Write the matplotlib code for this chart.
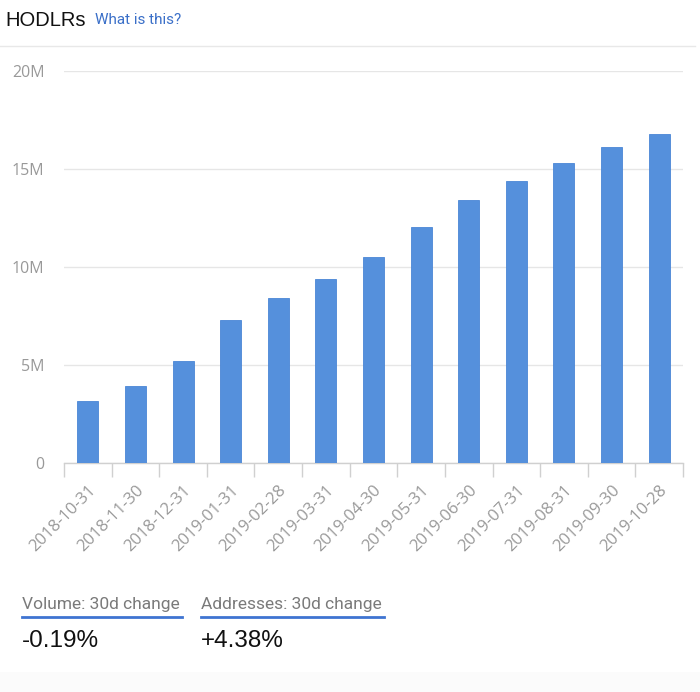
import matplotlib
matplotlib.use("Agg")
import matplotlib.pyplot as plt
import numpy as np

dates = ["2018-10-31", "2018-11-30", "2018-12-31", "2019-01-31", "2019-02-28",
         "2019-03-31", "2019-04-30", "2019-05-31", "2019-06-30", "2019-07-31",
         "2019-08-31", "2019-09-30", "2019-10-28"]
hodlers = [3.17e6, 3.94e6, 5.22e6, 7.31e6, 8.44e6, 9.41e6, 10.49e6, 12.02e6,
           13.40e6, 14.37e6, 15.29e6, 16.11e6, 16.78e6]
ytick_vals = [0, 5e6, 10e6, 15e6, 20e6]
ytick_labels = ["0", "5M", "10M", "15M", "20M"]
stat_labels = ["Volume: 30d change", "Addresses: 30d change"]
stat_values = ["-0.19%", "+4.38%"]

W, H = 700, 692
fig = plt.figure(figsize=(W / 100, H / 100), dpi=100)
fig.patch.set_facecolor("white")

def fx(px):
    return px / W

def fy(py):
    return 1 - py / H

tick_font = "Open Sans"

# Axes: x from 64 to 683 px, y from 71 (20M) to 463 (0)
ax = fig.add_axes([fx(64), fy(463), fx(683) - fx(64), fy(71) - fy(463)])
x = np.arange(len(dates))
ax.bar(x, hodlers, width=0.44, color="#5590dc", edgecolor="#4a86d6", linewidth=0.6, zorder=3)
ax.set_xlim(-0.5, len(dates) - 0.5)
ax.set_ylim(0, 20e6)
ax.set_yticks(ytick_vals)
ax.set_yticklabels(ytick_labels, fontfamily=tick_font, fontsize=11.5, color="#999999")
ax.yaxis.grid(True, color="#e6e6e6", linewidth=1.0, zorder=0)
ax.set_axisbelow(True)
for s in ["top", "right", "left"]:
    ax.spines[s].set_visible(False)
ax.spines["bottom"].set_color("#d0d0d0")
ax.spines["bottom"].set_linewidth(1.0)
ax.tick_params(axis="y", length=0, pad=14)
# major ticks at category boundaries, labels at centres
ax.set_xticks(np.arange(len(dates) + 1) - 0.5)
ax.set_xticklabels([])
ax.tick_params(axis="x", which="major", length=10, color="#d0d0d0", width=1.0)
ax.set_xticks(x, minor=True)
ax.set_xticklabels(dates, minor=True, rotation=45, ha="right", rotation_mode="anchor",
                   fontsize=12, color="#999999", fontfamily=tick_font)
ax.tick_params(axis="x", which="minor", length=0, pad=14)

# Title and link
fig.text(fx(5), fy(20), "HODLRs", fontsize=14.5, color="#111111", va="center", ha="left",
         fontfamily="Liberation Sans")
fig.text(fx(95), fy(20), "What is this?", fontsize=11, color="#3a6fc8", va="center", ha="left",
         fontfamily="Roboto")

# separator line at top
fig.add_artist(plt.Line2D([fx(0), fx(695)], [fy(46), fy(46)], color="#e8e8e8", linewidth=1.0))

# Bottom stats
stat_x = [22, 201]
stat_end = [182, 384]
for sx, se, lab, val in zip(stat_x, stat_end, stat_labels, stat_values):
    fig.text(fx(sx), fy(604), lab, fontsize=12.5, color="#7a7a7a", va="center", ha="left",
             fontfamily="Roboto")
    fig.add_artist(plt.Line2D([fx(sx), fx(se)], [fy(617), fy(617)], color="#3f74d1", linewidth=2.0))
    fig.text(fx(sx), fy(641), val, fontsize=17.5, color="#111111", va="center", ha="left",
             fontfamily="Liberation Sans")

# light gray bottom strip
fig.add_artist(plt.Rectangle((0, 0), 1, fy(672), transform=fig.transFigure,
                             facecolor="#fbfbfb", edgecolor="none", zorder=0))

fig.savefig("out.png", dpi=100, facecolor=fig.get_facecolor())
